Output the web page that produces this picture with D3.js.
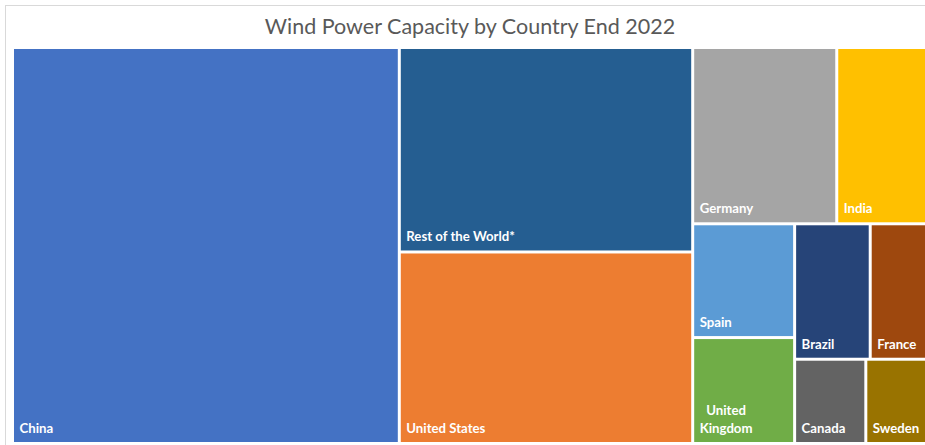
<!DOCTYPE html>
<html>
<head>
<meta charset="utf-8">
<script src="https://cdn.jsdelivr.net/npm/d3@7"></script>
<style>
	body { margin: 0; background: #fff; }
	svg { display: block; }
</style>
</head>
<body>
<svg id="chart" width="925" height="445"></svg>
<script>
	// capacity in GW
	var countries = [ "China", "Rest of the World*", "United States", "Germany", "India", "Spain",
			"United Kingdom", "Brazil", "France", "Canada", "Sweden" ];
	var capacityGW = [ 383, 150, 140.5, 63.5, 40, 29, 27, 25.6, 19.4, 15, 13 ];
	var tileColors = [ "#4472C4", "#255E91", "#ED7D31", "#A5A5A5", "#FFC000", "#5B9BD5",
			"#70AD47", "#264478", "#9E480E", "#636363", "#997300" ];
	var chartTitle = "Wind Power Capacity by Country End 2022";

	var svg = d3.select("#chart");
	var plotLeft = 12.5, plotTop = 47.5, plotWidth = 915, plotHeight = 396;

	// chart frame (only left and top edges are visible in the window)
	svg.append("rect")
		.attr("x", 5.5).attr("y", 5.5)
		.attr("width", 1000).attr("height", 1000)
		.attr("fill", "none")
		.attr("stroke", "#d9d9d9");

	svg.append("text")
		.attr("x", 470).attr("y", 34)
		.attr("text-anchor", "middle")
		.attr("font-family", "Lato, 'Open Sans', sans-serif")
		.attr("font-size", 21.5)
		.attr("fill", "#595959")
		.text(chartTitle);

	var root = d3.hierarchy({
		children : countries.map(function(c, i) {
			return { name : c, value : capacityGW[i], color : tileColors[i] };
		})
	}).sum(function(d) { return d.children ? 0 : d.value; });

	d3.treemap()
		.tile(d3.treemapSquarify.ratio(1.3))
		.size([ plotWidth, plotHeight ])(root);

	var cells = svg.append("g")
		.attr("transform", "translate(" + plotLeft + "," + plotTop + ")")
		.selectAll("g")
		.data(root.leaves())
		.enter().append("g");

	cells.append("rect")
		.attr("x", function(d) { return d.x0 + 1.5; })
		.attr("y", function(d) { return d.y0 + 1.5; })
		.attr("width", function(d) { return d.x1 - d.x0 - 3; })
		.attr("height", function(d) { return d.y1 - d.y0 - 3; })
		.attr("fill", function(d) { return d.data.color; });

	cells.each(function(d) {
		var lines = d.data.name == "United Kingdom" ? [ "United", "Kingdom" ] : [ d.data.name ];
		var label = d3.select(this).append("text")
			.attr("font-family", "Lato, 'Open Sans', sans-serif")
			.attr("font-weight", "bold")
			.attr("font-size", 13.2)
			.attr("fill", "#ffffff");
		var baseY = d.y1 - 10.5;
		lines.forEach(function(line, i) {
			label.append("tspan")
				.attr("x", d.x0 + 7)
				.attr("y", baseY - (lines.length - 1 - i) * 18)
				.text(line);
		});
		if (lines.length > 1) {
			// center the wrapped lines on the widest one
			var spans = label.selectAll("tspan").nodes();
			var widest = d3.max(spans, function(s) { return s.getComputedTextLength(); });
			spans.forEach(function(s) {
				d3.select(s).attr("x", d.x0 + 7 + (widest - s.getComputedTextLength()) / 2);
			});
		}
	});
</script>
</body>
</html>
